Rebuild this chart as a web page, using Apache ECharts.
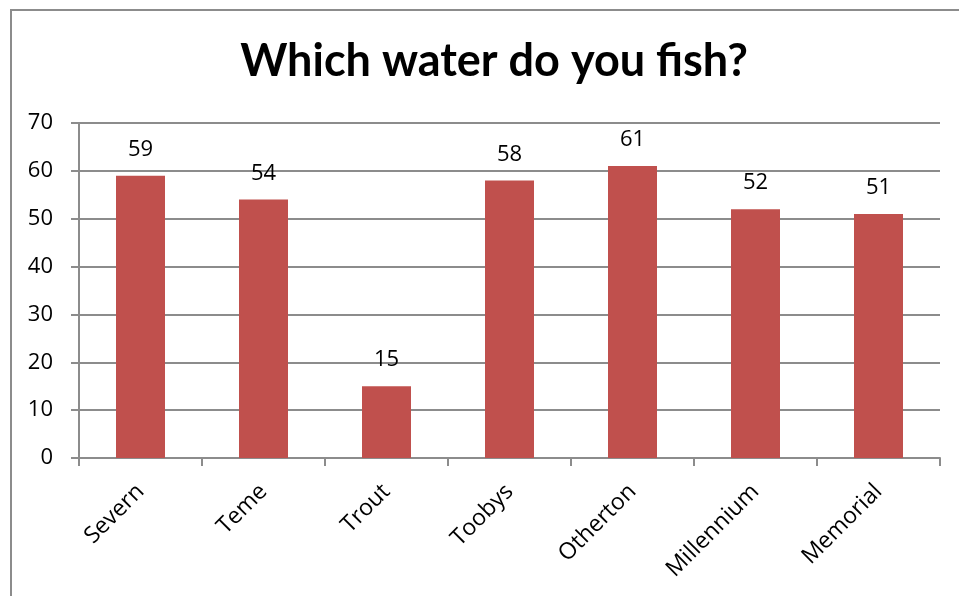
<!DOCTYPE html>
<html><head><meta charset="utf-8">
<script src="https://cdn.jsdelivr.net/npm/echarts@6/dist/echarts.min.js"></script>
<style>html,body{margin:0;padding:0;background:#fff}#c{width:959px;height:596px}</style>
</head><body><div id="c"></div>
<script>
const categories = ['Severn','Teme','Trout','Toobys','Otherton','Millennium','Memorial'];
const values = [59,54,15,58,61,52,51];
const yTicks = [0,10,20,30,40,50,60,70];
const titleText = 'Which water do you fish?';

const chart = echarts.init(document.getElementById('c'));
const tfont = 'Lato, sans-serif';
const font = '"Open Sans", sans-serif';
chart.setOption({
  animation:false,
  backgroundColor:'#fff',
  title:{text:titleText,left:489,textAlign:'center',top:34,
    textStyle:{fontFamily:tfont,fontSize:45,fontWeight:'bold',color:'#000'}},
  graphic:[{type:'rect',shape:{x:11,y:10,width:1000,height:700},silent:true,
    style:{fill:'none',stroke:'#8c8c8c',lineWidth:2}}],
  grid:{left:79,right:19,top:123,bottom:138,containLabel:false},
  xAxis:{type:'category',data:categories,
    axisLine:{lineStyle:{color:'#8c8c8c',width:2}},
    axisTick:{show:true,length:8,lineStyle:{color:'#8c8c8c',width:2}},
    axisLabel:{rotate:45,fontFamily:font,fontSize:23,color:'#000',margin:30,interval:0}},
  yAxis:{type:'value',min:yTicks[0],max:yTicks[yTicks.length-1],interval:10,
    axisLine:{show:true,lineStyle:{color:'#8c8c8c',width:2}},
    axisTick:{show:true,length:8,lineStyle:{color:'#8c8c8c',width:2}},
    splitLine:{lineStyle:{color:'#8c8c8c',width:2}},
    axisLabel:{fontFamily:font,fontSize:22,color:'#000',margin:26}},
  series:[{type:'bar',data:values,barWidth:49,
    itemStyle:{color:'#C0504D'},
    label:{show:true,position:'top',distance:15,fontFamily:font,fontSize:22,color:'#000'}}]
});
</script></body></html>
